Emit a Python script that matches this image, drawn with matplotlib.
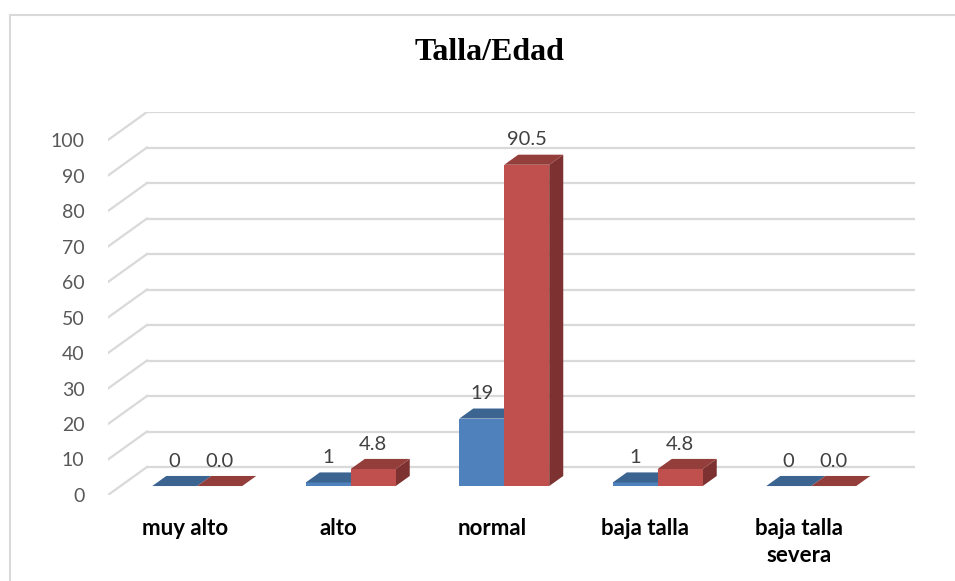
import matplotlib
matplotlib.use("Agg")
import matplotlib.pyplot as plt
from matplotlib.patches import Polygon
from matplotlib.lines import Line2D

# ---- data ----
categories = ["muy alto", "alto", "normal", "baja talla", "baja talla\nsevera"]
counts = [0, 1, 19, 1, 0]
percents = [0.0, 4.8, 90.5, 4.8, 0.0]
count_labels = ["0", "1", "19", "1", "0"]
percent_labels = ["0.0", "4.8", "90.5", "4.8", "0.0"]
yticks = list(range(0, 101, 10))
title = "Talla/Edad"

# ---- styling ----
W, H = 955, 581
fig = plt.figure(figsize=(W / 100, H / 100), dpi=100)

PXX = 153.5   # px per category
PXY = 3.55    # px per value unit
DX = 39 / PXX   # full depth offset (data units)
DY = 28 / PXY
front_px_left = 108
front_px_bottom = 495
xmin, xmax = -0.5, 4.5 + DX
ymin, ymax = 0, 100 + DY
ax_w = (xmax - xmin) * PXX
ax_h = (ymax - ymin) * PXY
ax = fig.add_axes([front_px_left / W, (H - front_px_bottom) / H, ax_w / W, ax_h / H])
ax.set_xlim(xmin, xmax)
ax.set_ylim(ymin, ymax)
for s in ax.spines.values():
    s.set_visible(False)
ax.set_facecolor("none")

grid_c = "#D9D9D9"
for v in yticks:
    ax.add_line(Line2D([xmin + DX, xmax], [v + DY, v + DY], color=grid_c, lw=1.6, zorder=1))
    ax.add_line(Line2D([xmin, xmin + DX], [v, v + DY], color=grid_c, lw=1.6, zorder=1))

bar_w = 0.293
d0 = 0.32   # depth fraction where bars start
bd = 0.36   # bar depth fraction
bdx, bdy = bd * DX, bd * DY

series = [
    (counts, count_labels, -1, ("#4F81BD", "#3C6491", "#345580")),
    (percents, percent_labels, 0, ("#C0504D", "#943E3B", "#7D3130")),
]
z = 3
for i in range(len(categories)):
    c = i + d0 * DX
    base = d0 * DY
    for vals, labs, off, (fc, tc, sc) in series:
        v = vals[i]
        x0 = c + off * bar_w
        x1 = x0 + bar_w
        y0 = base
        y1 = base + v
        if v > 0:
            ax.add_patch(Polygon([(x1, y0), (x1 + bdx, y0 + bdy), (x1 + bdx, y1 + bdy), (x1, y1)],
                                 closed=True, fc=sc, ec="none", zorder=z))
            ax.add_patch(Polygon([(x0, y0), (x1, y0), (x1, y1), (x0, y1)],
                                 closed=True, fc=fc, ec="none", zorder=z))
        ax.add_patch(Polygon([(x0, y1), (x1, y1), (x1 + bdx, y1 + bdy), (x0 + bdx, y1 + bdy)],
                             closed=True, fc=tc, ec="none", zorder=z))
        z += 1
        ax.text((x0 + x1) / 2, y1 + 7.0, labs[i], ha="center", va="center",
                fontsize=14.5, family="Lato", color="#404040", zorder=50)

ax.set_yticks(yticks)
ax.set_yticklabels([str(t) for t in yticks], family="Lato", fontsize=14, color="#595959")
ax.set_xticks(range(len(categories)))
ax.set_xticklabels(categories, family="Lato", fontsize=16, fontweight="bold",
                   color="#000000", linespacing=1.34)
ax.tick_params(axis="y", length=0, pad=17)
ax.tick_params(axis="x", length=0, pad=16.5)

fig.text(489 / W, 1 - 53 / H, title, ha="center", va="center",
         family="Liberation Serif", fontweight="bold", fontsize=23, color="#000000")

# chart-area border (top and left visible)
fig.add_artist(Line2D([9.5 / W, 9.5 / W], [0, 1 - 15 / H], transform=fig.transFigure,
                      color=grid_c, lw=1.5))
fig.add_artist(Line2D([9.5 / W, 1], [1 - 15 / H, 1 - 15 / H], transform=fig.transFigure,
                      color=grid_c, lw=1.5))

fig.savefig("out.png", dpi=100)
